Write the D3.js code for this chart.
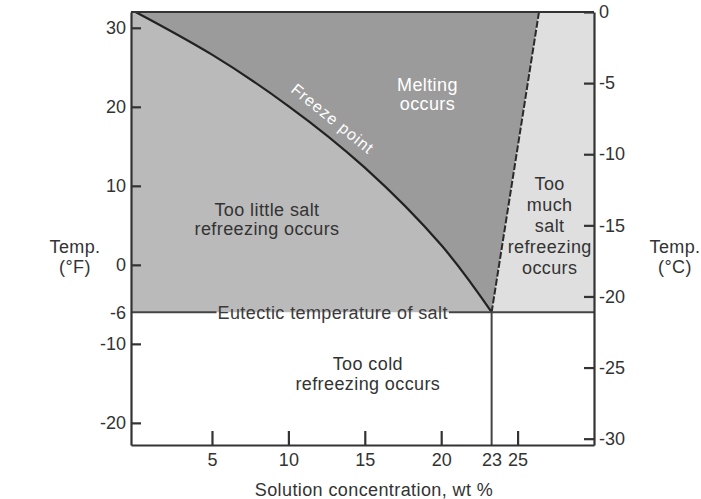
<!DOCTYPE html>
<html lang="en">
<head>
<meta charset="utf-8">
<script src="https://d3js.org/d3.v7.min.js"></script>
<style>
  body { margin: 0; background: #fff; }
  svg { display: block; font-family: "Liberation Sans", Arial, sans-serif; }
  .tick text { font-size: 18px; fill: #333; }
  .lbl { font-size: 18px; letter-spacing: 0.4px; }
</style>
</head>
<body>
<div id="chart"></div>
<script>
// freezing point curve of salt water (wt %, deg F)
var concentration = [0, 5, 10, 15, 20, 23.3];
var freezeF = [32, 26.6, 20.1, 12.3, 2.5, -6];

// salt saturation line (wt %, deg F)
var saturationConc = [23.3, 26.4];
var saturationF = [-6, 32];

var eutecticF = -6;
var eutecticConc = 23.3;

var xTicks = [5, 10, 15, 20, 25];
var fTicks = [30, 20, 10, 0, -6, -10, -20];
var cTicks = [0, -5, -10, -15, -20, -25, -30];

// region labels, anchored in data units (wt %, deg F)
var regionLabels = [
  { lines: ["Melting", "occurs"], at: [19.1, 21.6], color: "#fff" },
  { lines: ["Too little salt", "refreezing occurs"], at: [8.6, 5.8], color: "#333" },
  { lines: ["Too", "much", "salt", "refreezing", "occurs"], at: [27.1, 5.0], color: "#333" },
  { lines: ["Too cold", "refreezing occurs"], at: [15.2, -13.8], color: "#333" }
];

var W = 701, H = 499;
var svg = d3.select("#chart").append("svg").attr("width", W).attr("height", H);

var x = d3.scaleLinear().domain([-0.3, 30]).range([131, 594]);
var y = d3.scaleLinear().domain([-22.8, 32]).range([445, 12]);
var yC = d3.scaleLinear().domain([(-22.8 - 32) * 5 / 9, 0]).range([445, 12]);

var xMin = x.domain()[0], xMax = x.domain()[1];
var yTop = y.domain()[1];

var freezePts = concentration.map(function (c, i) { return [c, freezeF[i]]; });
var satPts = saturationConc.map(function (c, i) { return [c, saturationF[i]]; });

var line = d3.line()
  .x(function (d) { return x(d[0]); })
  .y(function (d) { return y(d[1]); });
var curveLine = d3.line()
  .x(function (d) { return x(d[0]); })
  .y(function (d) { return y(d[1]); })
  .curve(d3.curveNatural);

var curveD = curveLine(freezePts);

// too little salt region
svg.append("path")
  .attr("d", "M" + x(xMin) + "," + y(yTop) + "L" + curveD.slice(1) +
    "L" + x(xMin) + "," + y(eutecticF) + "Z")
  .attr("fill", "#bababa");

// melting region
svg.append("path")
  .attr("d", curveD + "L" + x(satPts[1][0]) + "," + y(satPts[1][1]) + "Z")
  .attr("fill", "#9b9b9b");

// too much salt region
svg.append("path")
  .attr("d", line([satPts[0], satPts[1], [xMax, yTop], [xMax, eutecticF]]) + "Z")
  .attr("fill", "#dfdfdf");

// freeze curve
svg.append("path")
  .attr("d", curveD)
  .attr("fill", "none")
  .attr("stroke", "#222")
  .attr("stroke-width", 2.2);

// saturation line
svg.append("path")
  .attr("d", line(satPts))
  .attr("fill", "none")
  .attr("stroke", "#2a2a2a")
  .attr("stroke-width", 2)
  .attr("stroke-dasharray", "7,2");

// vertical line at eutectic concentration
svg.append("line")
  .attr("x1", x(eutecticConc)).attr("x2", x(eutecticConc))
  .attr("y1", y(eutecticF)).attr("y2", y.range()[0])
  .attr("stroke", "#444").attr("stroke-width", 2);

// eutectic label and line broken around it
var eut = svg.append("text")
  .attr("class", "lbl")
  .attr("x", x(12.9)).attr("y", y(eutecticF))
  .attr("dy", "0.35em")
  .attr("text-anchor", "middle")
  .attr("fill", "#3a3a3a")
  .text("Eutectic temperature of salt");
var eutW = eut.node().getBBox().width;
var gapL = x(12.9) - eutW / 2 - 1, gapR = x(12.9) + eutW / 2 + 1;
[[x(xMin), gapL], [gapR, x(xMax)]].forEach(function (s) {
  svg.append("line")
    .attr("x1", s[0]).attr("x2", s[1])
    .attr("y1", y(eutecticF)).attr("y2", y(eutecticF))
    .attr("stroke", "#444").attr("stroke-width", 2);
});

// top border
svg.append("line")
  .attr("x1", x(xMin)).attr("x2", x(xMax))
  .attr("y1", y(yTop)).attr("y2", y(yTop))
  .attr("stroke", "#333").attr("stroke-width", 2);

// axes (plain hyphen for negatives, like the original)
var fmt = function (d) { return d === eutecticConc ? "23" : String(d); };

var gx = svg.append("g")
  .attr("transform", "translate(0," + y.range()[0] + ")")
  .call(d3.axisBottom(x).tickValues(xTicks.concat([eutecticConc]))
    .tickFormat(fmt).tickSize(-14).tickSizeOuter(0).tickPadding(8));

var gyF = svg.append("g")
  .attr("transform", "translate(" + x(xMin) + ",0)")
  .call(d3.axisLeft(y).tickValues(fTicks).tickFormat(fmt)
    .tickSize(-10).tickSizeOuter(0).tickPadding(5));

var gyC = svg.append("g")
  .attr("transform", "translate(" + x(xMax) + ",0)")
  .call(d3.axisRight(yC).tickValues(cTicks).tickFormat(fmt)
    .tickSize(-10).tickSizeOuter(0).tickPadding(5));

[gx, gyF, gyC].forEach(function (g) {
  g.select(".domain").attr("stroke", "#333").attr("stroke-width", 2.2);
  g.selectAll(".tick line").attr("stroke", "#333").attr("stroke-width", 2.2);
});
gx.selectAll(".tick").filter(function (d) { return d === eutecticConc; }).select("line").remove();
gyF.selectAll(".tick").filter(function (d) { return d === eutecticF; }).select("line").remove();

// axis title
svg.append("text")
  .attr("class", "lbl")
  .attr("x", x(15.6)).attr("y", 496)
  .attr("text-anchor", "middle")
  .attr("fill", "#333")
  .text("Solution concentration, wt %");

function multiline(cx, cy, lines, color, lh) {
  var t = svg.append("text")
    .attr("class", "lbl")
    .attr("text-anchor", "middle")
    .attr("fill", color);
  var y0 = cy - (lines.length - 1) * lh / 2;
  lines.forEach(function (l, i) {
    t.append("tspan").attr("x", cx).attr("y", y0 + i * lh).attr("dy", "0.35em").text(l);
  });
  return t;
}

multiline(75, 257, ["Temp.", "(°F)"], "#333", 20);
multiline(675, 257, ["Temp.", "(°C)"], "#333", 20);

regionLabels.forEach(function (r) {
  multiline(x(r.at[0]), y(r.at[1]), r.lines, r.color, r.lines.length > 2 ? 21 : 19.5);
});

// label along the freeze curve
svg.append("text")
  .attr("transform", "translate(" + x(12.9) + "," + y(18.5) + ") rotate(39)")
  .attr("text-anchor", "middle")
  .attr("dy", "0.35em")
  .style("font-size", "16px")
  .style("letter-spacing", "1px")
  .attr("fill", "#fff")
  .text("Freeze point");
</script>
</body>
</html>
